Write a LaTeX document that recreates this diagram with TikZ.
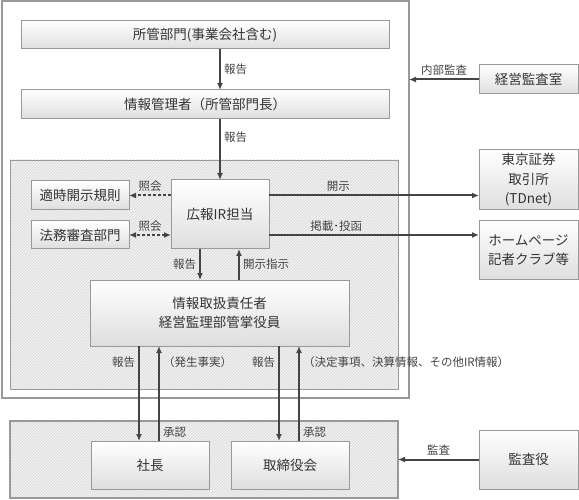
\documentclass[tikz,border=0pt]{standalone}
\usepackage{fontspec}
\setmainfont{Noto Sans CJK JP}
\usetikzlibrary{arrows.meta,patterns}
\definecolor{edge}{HTML}{999999}
\definecolor{ink}{HTML}{333333}
\definecolor{wire}{HTML}{444444}
\tikzset{>={Latex[length=7pt,width=6pt]}}

\begin{document}
\begin{tikzpicture}[x=1pt,y=-1pt,
  box/.style={draw=edge,line width=1pt,top color=white,bottom color=black!13,text=ink,
    inner sep=0pt,outer sep=0pt,align=center,font=\fontsize{13.5}{19.5}\selectfont},
  area/.style={draw=edge,inner sep=0pt,outer sep=0pt,preaction={fill=black!5},
    pattern=north east lines,pattern color=black!16},
  frame/.style={draw=edge,line width=2pt,inner sep=0pt,outer sep=0pt},
  lbl/.style={text=wire,inner sep=3pt,font=\fontsize{11.5}{14}\selectfont},
  arr/.style={draw=wire,line width=2pt,->},
  ask/.style={arr,dash pattern=on 3pt off 2pt}]
  \useasboundingbox (0,0) rectangle (579,500);
  % company frame and the two grey areas
  \node[frame,minimum width=407pt,minimum height=397pt] at (205.5,199.5) (outer) {};
  \node[area,minimum width=388pt,minimum height=229pt] at (204,274.5) (inner) {};
  \node[area,line width=2pt,minimum width=388pt,minimum height=77pt] at (204,459.5) (lower) {};
  % boxes
  \node[box,minimum width=368pt,minimum height=28pt] at (205,35) (dept) {所管部門(事業会社含む)};
  \node[box,minimum width=368pt,minimum height=29pt] at (205,104.5) (mgr) {情報管理者（所管部門長）};
  \node[box,minimum width=98pt,minimum height=69pt] at (220,214.5) (ir) {広報IR担当};
  \node[box,minimum width=98pt,minimum height=29pt] at (80,195.5) (rule) {適時開示規則};
  \node[box,minimum width=98pt,minimum height=28pt] at (80,235) (legal) {法務審査部門};
  \node[box,minimum width=259pt,minimum height=66pt] at (219.5,313) (chief) {情報取扱責任者\\経営監理部管掌役員};
  \node[box,minimum width=118pt,minimum height=48pt] at (150,465) (pres) {社長};
  \node[box,minimum width=118pt,minimum height=48pt] at (290,465) (board) {取締役会};
  \node[box,minimum width=99pt,minimum height=29pt] at (528.5,79.5) (audit) {経営監査室};
  \node[box,minimum width=99pt,minimum height=60pt] at (528.5,180) (tse) {東京証券\\取引所\\(TDnet)};
  \node[box,minimum width=99pt,minimum height=58pt] at (528.5,250) (hp) {ホームページ\\記者クラブ等};
  \node[box,minimum width=99pt,minimum height=59pt] at (528.5,459.5) (kansa) {監査役};
  % reporting line
  \draw[arr] (dept.south -| ir) -- node[lbl,right] {報告} (mgr.north -| ir);
  \draw[arr] (mgr.south -| ir) -- node[lbl,right,pos=0.3] {報告} (ir.north);
  \draw[ask] (ir.west |- rule) -- node[lbl,above] {照会} (rule.east);
  \draw[ask,<->] (ir.west |- legal) -- node[lbl,above] {照会} (legal.east);
  \draw[arr] (ir.east |- rule) -- node[lbl,above,pos=0.33] {開示} (rule -| tse.west);
  \draw[arr] (ir.east |- legal) -- node[lbl,above,pos=0.32] {掲載･投函} (legal -| hp.west);
  \draw[arr] (audit.west) -- node[lbl,above] {内部監査} (audit.west -| outer.east);
  \draw[arr] ([xshift=-20pt]ir.south) -- node[lbl,left] {報告} ([xshift=-20pt]ir.south |- chief.north);
  \draw[arr] ([xshift=19pt]ir.south |- chief.north) -- node[lbl,right] {開示指示} ([xshift=19pt]ir.south);
  % top management
  \draw[arr] ([xshift=-11pt]pres.north |- chief.south) -- node[lbl,left,pos=0.17] {報告} ([xshift=-11pt]pres.north);
  \draw[arr] ([xshift=9pt]pres.north) -- node[lbl,right,pos=0.09] {承認} node[lbl,right,pos=0.83] {（発生事実）} ([xshift=9pt]pres.north |- chief.south);
  \draw[arr] ([xshift=-11pt]board.north |- chief.south) -- node[lbl,left,pos=0.17] {報告} ([xshift=-11pt]board.north);
  \draw[arr] ([xshift=9pt]board.north) -- node[lbl,right,pos=0.09] {承認} node[lbl,right,pos=0.83] {（決定事項、決算情報、その他IR情報）} ([xshift=9pt]board.north |- chief.south);
  \draw[arr] (kansa.west) -- node[lbl,above] {監査} (kansa.west -| lower.east);
\end{tikzpicture}
\end{document}
